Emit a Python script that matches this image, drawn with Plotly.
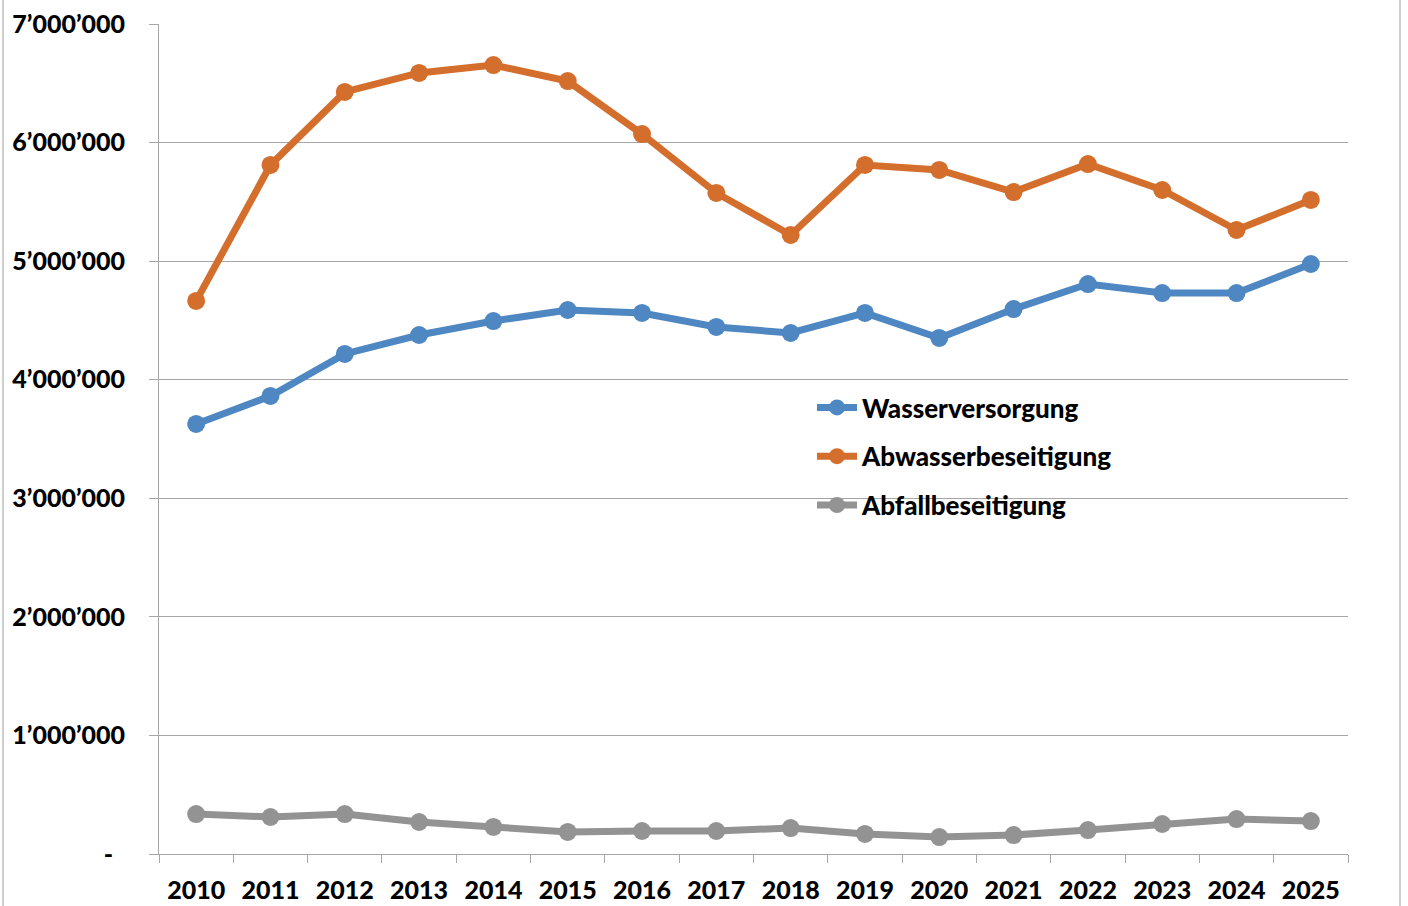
import plotly.graph_objects as go

years = [str(y) for y in range(2010, 2026)]
wasser = [3627000, 3863000, 4217000, 4377000, 4495000, 4588000, 4563000, 4445000,
          4394000, 4563000, 4352000, 4596000, 4807000, 4731000, 4731000, 4976000]
abwasser = [4664000, 5811000, 6427000, 6587000, 6654000, 6519000, 6072000, 5575000,
            5221000, 5811000, 5769000, 5583000, 5819000, 5600000, 5263000, 5516000]
abfall = [337000, 312000, 337000, 270000, 228000, 186000, 194000, 194000,
          219000, 169000, 143000, 160000, 202000, 253000, 295000, 278000]

series_names = ["Wasserversorgung", "Abwasserbeseitigung", "Abfallbeseitigung"]
series_values = [wasser, abwasser, abfall]
colors = ["#4E87C1", "#D46E2C", "#939393"]

y_tickvals = [0, 1000000, 2000000, 3000000, 4000000, 5000000, 6000000, 7000000]
y_ticktext = ["-\u00a0\u00a0", "1’000’000", "2’000’000", "3’000’000", "4’000’000",
              "5’000’000", "6’000’000", "7’000’000"]

FONT = "Lato, Carlito, 'Open Sans', sans-serif"

fig = go.Figure()
for i, (name, vals, col) in enumerate(zip(series_names, series_values, colors)):
    fig.add_trace(go.Scatter(
        x=years, y=vals, name=name, mode="lines+markers",
        line=dict(color=col, width=7),
        marker=dict(color=col, size=18),
        legendgroup=f"g{i}",
    ))

W, H = 1408, 906
L, R, T, B = 159, 60, 24, 52
pw = W - L - R
ph = H - T - B

fig.update_layout(
    width=W, height=H,
    margin=dict(l=L, r=R, t=T, b=B, autoexpand=False),
    paper_bgcolor="white", plot_bgcolor="white",
    font=dict(family=FONT, size=25, color="black"),
    showlegend=True,
    legend=dict(
        x=(812 - L) / pw, y=(854 - 384) / ph, xanchor="left", yanchor="top",
        bgcolor="rgba(0,0,0,0)", tracegroupgap=12,
        font=dict(family=FONT, size=26, color="black", weight=900),
        itemwidth=40,
    ),
    xaxis=dict(
        type="category", range=[-0.5, 15.5], automargin=False,
        showgrid=False, showline=True, linecolor="#A6A6A6", linewidth=1,
        ticks="outside", tickson="boundaries", ticklen=8, tickcolor="#A6A6A6",
        tickfont=dict(family=FONT, size=25, color="black", weight=900),
        ticklabelstandoff=14,
    ),
    yaxis=dict(
        range=[0, 7000000], tickvals=y_tickvals, ticktext=y_ticktext, automargin=False,
        showgrid=True, gridcolor="#A6A6A6", gridwidth=1,
        showline=True, linecolor="#A6A6A6", linewidth=1,
        ticks="outside", ticklen=9, tickcolor="#A6A6A6",
        tickfont=dict(family=FONT, size=25, color="black", weight=900),
        ticklabelstandoff=19, zeroline=False,
    ),
)

# chart-area frame lines (left and right edges)
for px in (3, 1400):
    xp = (px - L) / pw
    fig.add_shape(type="line", xref="paper", yref="paper",
                  x0=xp, x1=xp, y0=-0.2, y1=1.2,
                  line=dict(color="#BFBFBF", width=1.5))

fig.write_html(
    "out.html",
    config={"displayModeBar": False},
    post_script="document.body.style.margin='0';document.body.style.overflow='hidden';",
)
